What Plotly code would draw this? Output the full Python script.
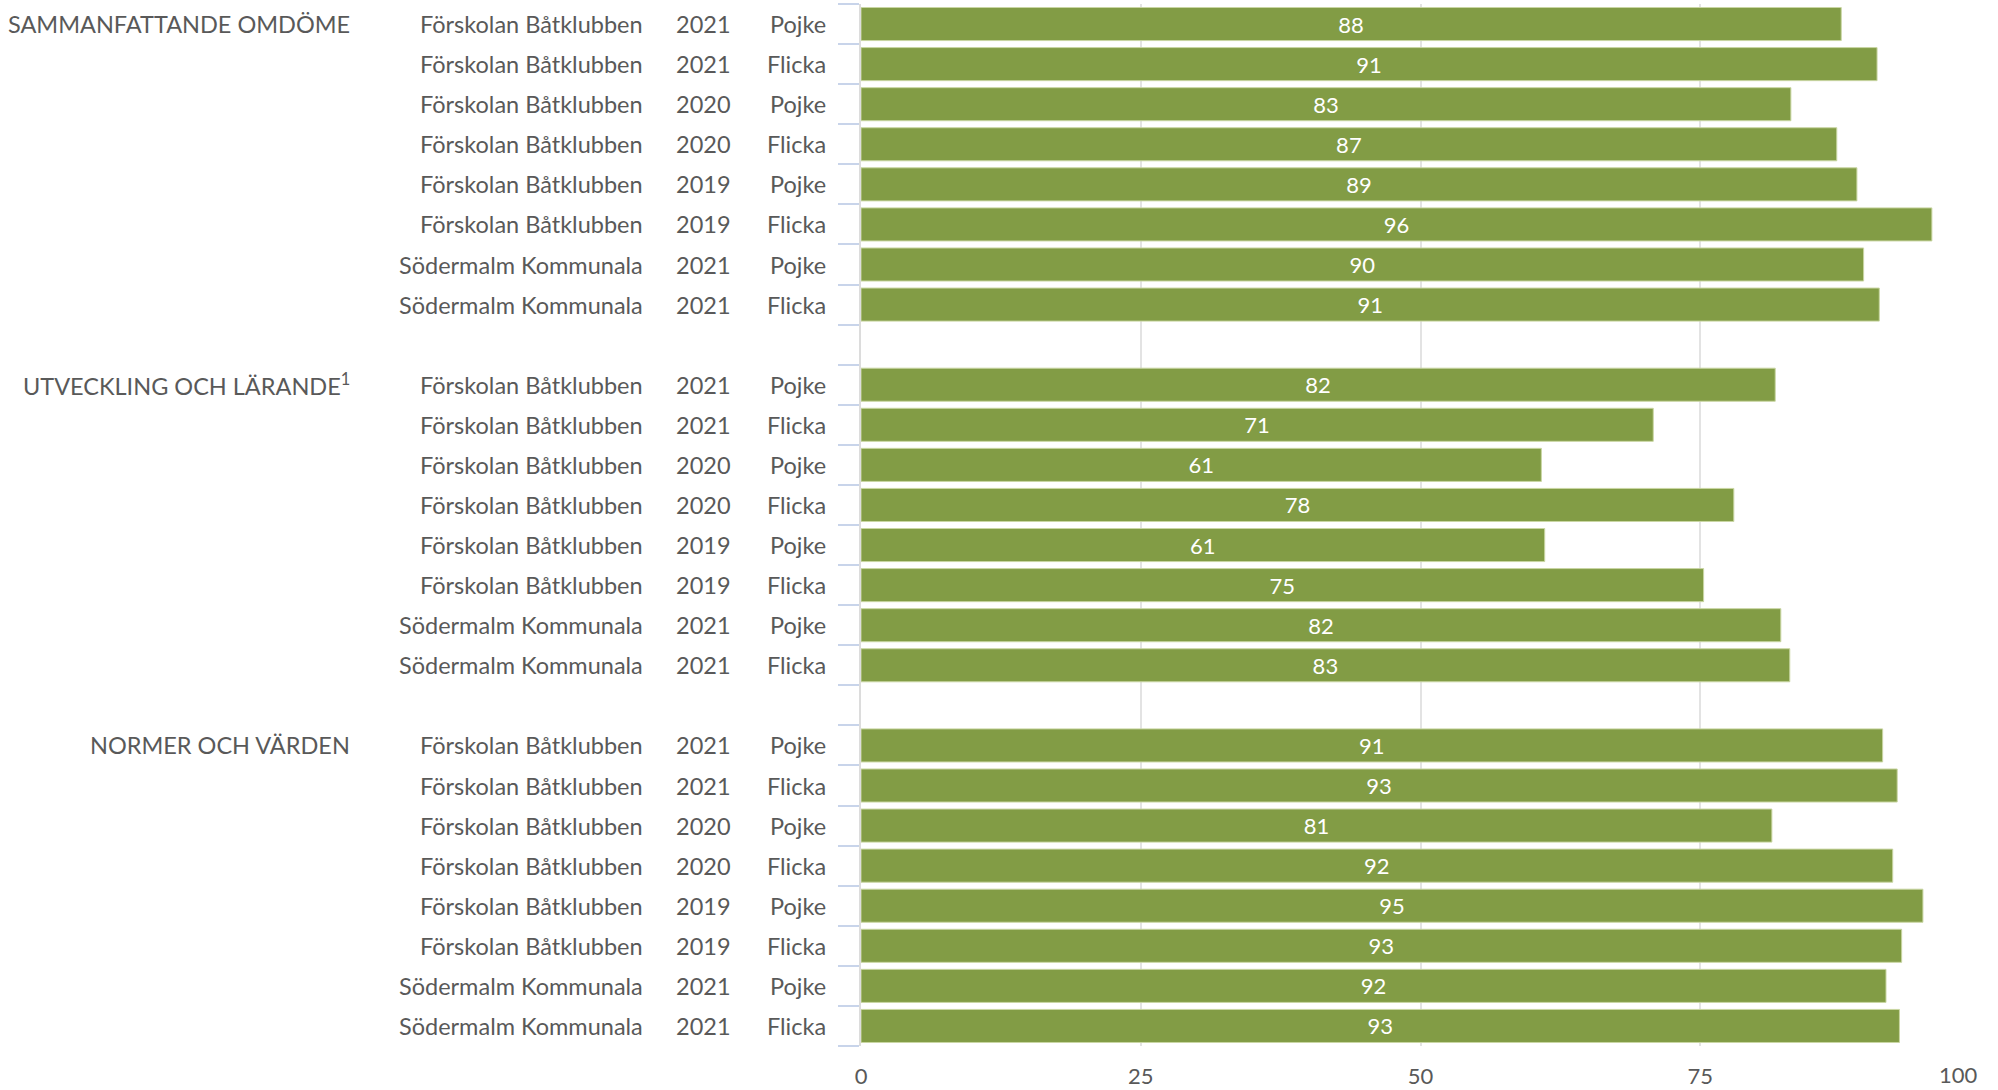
import plotly.graph_objects as go

groups = ["SAMMANFATTANDE OMDÖME", "UTVECKLING OCH LÄRANDE<sup>1</sup>", "NORMER OCH VÄRDEN"]
units = ["Förskolan Båtklubben"] * 6 + ["Södermalm Kommunala"] * 2
years = ["2021", "2021", "2020", "2020", "2019", "2019", "2021", "2021"]
genders = ["Pojke", "Flicka", "Pojke", "Flicka", "Pojke", "Flicka", "Pojke", "Flicka"]

values_sammanfattande = [87.6, 90.8, 83.1, 87.2, 89.0, 95.7, 89.6, 91.0]
values_utveckling = [81.7, 70.8, 60.8, 78.0, 61.1, 75.3, 82.2, 83.0]
values_normer = [91.3, 92.6, 81.4, 92.2, 94.9, 93.0, 91.6, 92.8]

x_ticks = [0, 25, 50, 75, 100]

all_values = [values_sammanfattande, values_utveckling, values_normer]

BAR = "#829c45"
TXT = "#595959"
FONT = "Lato"
LBL = 23.5

ys, xs = [], []
annotations = []
L, R = 861, 1980
W = R - L


def px(p):
    return (p - L) / W


row = 0
for gi, (g, vals) in enumerate(zip(groups, all_values)):
    if gi > 0:
        row += 1  # gap row between groups
    annotations.append(dict(x=px(352), y=row, xref="paper", yref="y", text=g,
                            xanchor="right", yanchor="middle", showarrow=False,
                            font=dict(family=FONT, size=LBL, color=TXT)))
    for i, v in enumerate(vals):
        ys.append(row)
        xs.append(v)
        for col, txt in ((645, units[i]), (733, years[i]), (828, genders[i])):
            annotations.append(dict(x=px(col), y=row, xref="paper", yref="y", text=txt,
                                    xanchor="right", yanchor="middle", showarrow=False,
                                    font=dict(family=FONT, size=LBL, color=TXT)))
        row += 1
last = row - 1

# last x tick label kept inside the canvas, right-aligned on its gridline
annotations.append(dict(x=x_ticks[-1], y=0, xref="x", yref="paper", text=str(x_ticks[-1]),
                        xanchor="right", yanchor="top", yshift=-13, showarrow=False,
                        font=dict(family=FONT, size=22, color=TXT)))

fig = go.Figure(go.Bar(
    x=xs, y=ys, orientation="h",
    marker=dict(color=BAR, line=dict(color="#c9d6a3", width=1)),
    texttemplate="%{x:.0f}", textposition="inside", insidetextanchor="middle",
    textangle=0, constraintext="none",
    textfont=dict(family=FONT, size=22, color="white"),
    hoverinfo="skip",
))

fig.update_layout(
    width=1998, height=1090,
    margin=dict(l=L, r=1998 - R, t=4, b=44, autoexpand=False),
    paper_bgcolor="white", plot_bgcolor="white",
    bargap=0.175,
    showlegend=False,
    annotations=annotations,
    font=dict(family=FONT, color=TXT),
)
fig.update_xaxes(
    range=[0, 100], tickvals=x_ticks,
    ticktext=[str(t) for t in x_ticks[:-1]] + [""],
    showgrid=True, gridcolor="#e3e3e3", gridwidth=2, zeroline=False,
    showline=False, ticks="", ticklabelstandoff=15, automargin=False,
    tickfont=dict(family=FONT, size=22, color=TXT),
)
fig.update_yaxes(
    range=[last + 0.5, -0.5], tickvals=[i - 0.5 for i in range(last + 2)],
    ticktext=[""] * (last + 2), ticks="outside", ticklen=21, tickwidth=2,
    tickcolor="#c8d4ea", showgrid=False, zeroline=False, automargin=False,
    showline=True, linecolor="#dcdcdc", linewidth=2,
)

fig.write_html(
    "out.html",
    config={"displayModeBar": False, "responsive": False},
    post_script="document.body.style.margin='0';document.body.style.overflow='hidden';",
)
